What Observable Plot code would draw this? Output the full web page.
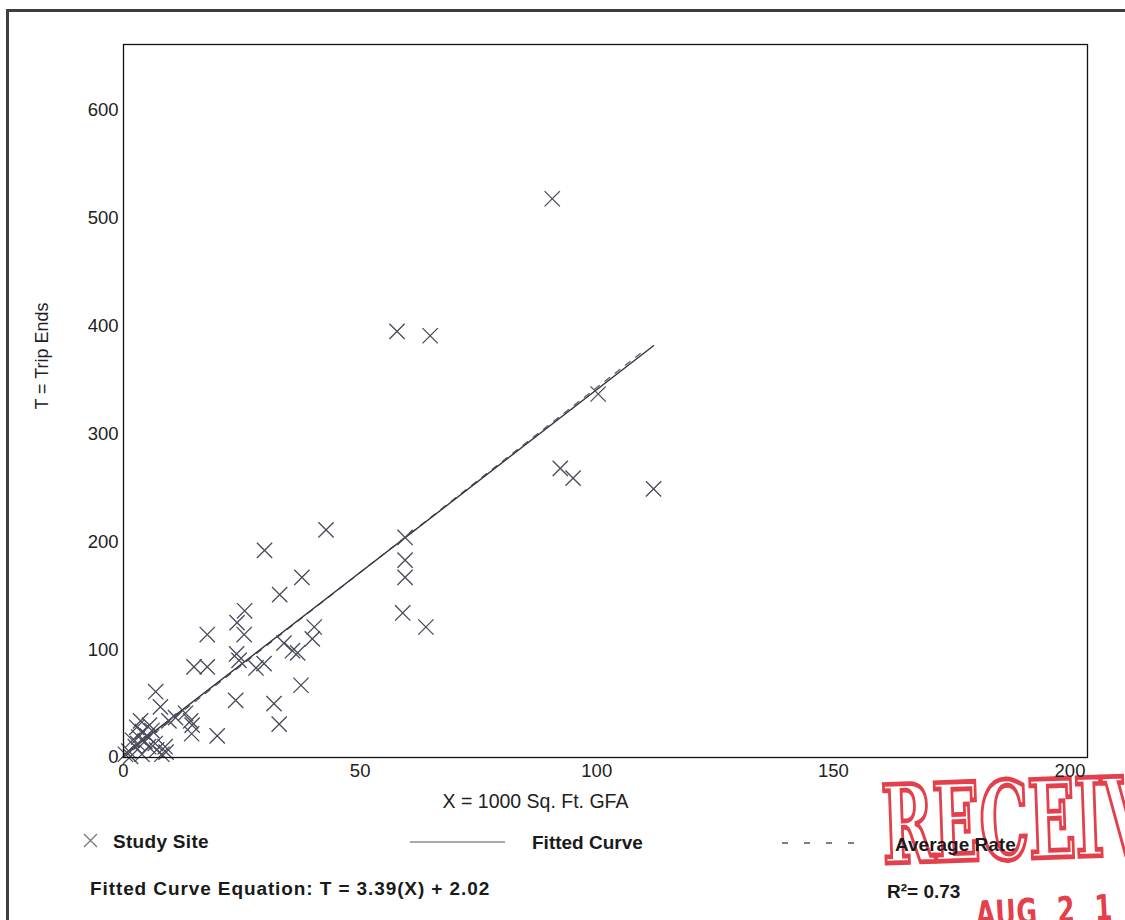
<!DOCTYPE html>
<html><head><meta charset="utf-8">
<script src="https://cdn.jsdelivr.net/npm/d3@7"></script>
<script src="https://cdn.jsdelivr.net/npm/@observablehq/plot@0.6"></script>
<style>
html,body{margin:0;padding:0;background:#fff;width:1125px;height:920px;overflow:hidden;}
#page{position:relative;width:1125px;height:920px;font-family:"Liberation Sans",Arial,sans-serif;overflow:hidden;}
#border{position:absolute;left:6px;top:9px;width:1300px;height:1200px;border:3px solid #3d3d3d;box-sizing:border-box;}
#chart{position:absolute;left:0;top:0;}
.lg{position:absolute;font-weight:bold;font-size:19px;line-height:19px;color:#1a1a1a;white-space:nowrap;}
#stamp{position:absolute;left:880px;top:771px;font-family:"DejaVu Serif",serif;font-weight:bold;font-size:90px;line-height:90px;color:#fff;-webkit-text-stroke:4px #e3404c;transform-origin:0 0;transform:rotate(-2deg) scale(0.69,1.2);white-space:nowrap;letter-spacing:-1px;}
#stamp2{position:absolute;left:975px;top:897px;font-family:"DejaVu Sans",sans-serif;font-weight:bold;font-size:36px;line-height:36px;color:#e3404c;transform-origin:0 0;transform:rotate(-3deg) scaleX(0.7);white-space:nowrap;letter-spacing:1px;word-spacing:14px;}
#legsvg{position:absolute;left:0;top:0;}
</style></head>
<body><div id="page">
<div id="border"></div>
<div id="stamp"></div>
<div id="stamp2"></div>
<div id="chart"></div>
<svg id="legsvg" width="1125" height="920"></svg>
</div>
<script>
// ---- data ----
const siteX = [90.6,57.8,64.8,100.3,92.3,95.0,112.0,
  42.8,29.8,59.5,59.5,59.5,59.0,63.9,
  37.7,33.0,25.6,24.0,25.5,17.7,23.9,24.4,
  14.9,17.7,28.0,29.7,40.3,39.9,33.9,35.7,36.8,
  37.5,23.7,31.8,32.9,19.8,14.2,14.4,6.8,7.8,
  3.6,9.6,11.0,13.1,14.5,
  1.9,2.5,1.1,5.3,6.7,8.8,8.1,3.9,0.4,5.0,3.2,4.0,2.8,5.5,7.0,1.5,4.5,6.0,3.0,9.0];
const siteY = [518,395,391,337,268,259,249,
  211,192,204,183,167,134,121,
  167,151,136,125,114,114,96,90,
  84,84,83,87,121,110,106,99,97,
  67,53,50,31,20,34,22,61,47,
  34,34,37,41,30,
  16,10,6,10,13,10,3,3,3,20,19,24,28,30,7,1,15,25,13,5];
const fittedSlope = 3.39, fittedIntercept = 2.02;
const averageRate = 3.43;
const rSquared = 0.73;
const xTicks = [0,50,100,150,200];
const yTicks = [0,100,200,300,400,500,600];
const xLabel = "X = 1000 Sq. Ft. GFA";
const yLabel = "T = Trip Ends";
const legendLabels = ["Study Site","Fitted Curve","Average Rate"];
const equationText = `Fitted Curve Equation: T = ${fittedSlope}(X) + ${fittedIntercept}`;
const rText = `R²= ${rSquared}`;
const stampText = "RECEIVED";
const stampDate = "AUG 2 1 2012";

// ---- build tables ----
const sites = siteX.map((x,i)=>({x, y: siteY[i]}));
const xr = [d3.min(siteX), d3.max(siteX)];
const fitLine = xr.map(x=>({x, y: fittedSlope*x + fittedIntercept}));
const avgLine = [0, 110].map(x=>({x, y: averageRate*x}));

const font = '"Liberation Sans", Arial, sans-serif';
const chart = Plot.plot({
  width: 1125, height: 815,
  marginLeft: 123, marginRight: 38, marginTop: 44, marginBottom: 58,
  x: {domain: [0, 203.7]},
  y: {domain: [0, 661]},
  style: {fontFamily: font, fontSize: "18.5px", color: "#222", background: "transparent", overflow: "visible"},
  marks: [
    Plot.axisX({ticks: xTicks, tickSize: 0, tickPadding: 6, label: null, fontSize: 18.5}),
    Plot.axisY({ticks: yTicks, tickSize: 0, tickPadding: 5, label: null, fontSize: 18.5}),
    Plot.line(avgLine, {x: "x", y: "y", stroke: "#5a5a66", strokeWidth: 1.2, strokeDasharray: "6,7"}),
    Plot.line(fitLine, {x: "x", y: "y", stroke: "#333340", strokeWidth: 1.4}),
    Plot.dot(sites, {x: "x", y: "y", symbol: "times", r: 7, stroke: "#474b5a", strokeWidth: 1.3}),
    Plot.frame({stroke: "#111", strokeWidth: 1.3}),
    Plot.text([xLabel], {frameAnchor: "bottom", dx: -70, dy: 50, fontSize: 19.5, fill: "#222"}),
    Plot.text([yLabel], {frameAnchor: "left", textAnchor: "middle", dx: -81, dy: -45, rotate: -90, fontSize: 18, fill: "#222"})
  ]
});
document.getElementById("chart").appendChild(chart);

// stamp (behind chart and legend texts)
document.getElementById("stamp").textContent = stampText;
document.getElementById("stamp2").textContent = stampDate;

// legend
const page = document.getElementById("page");
function addText(txt, left, cy, ls){
  const d = document.createElement("div");
  d.className = "lg"; d.textContent = txt;
  d.style.left = left + "px"; d.style.top = (cy - 9.5) + "px";
  if (ls) d.style.letterSpacing = ls + "px";
  page.appendChild(d);
}
addText(legendLabels[0], 113, 841, 0.3);
addText(legendLabels[1], 532, 842);
addText(legendLabels[2], 895, 844);
addText(equationText, 90, 888, 0.9);
addText(rText, 887, 891);

const svg = d3.select("#legsvg");
svg.append("path").attr("d","M84,834L97,847M97,834L84,847").attr("stroke","#777").attr("stroke-width",1.3).attr("fill","none");
svg.append("line").attr("x1",410).attr("x2",505).attr("y1",842).attr("y2",842).attr("stroke","#555").attr("stroke-width",1.2);
svg.append("line").attr("x1",782).attr("x2",862).attr("y1",843).attr("y2",843).attr("stroke","#555").attr("stroke-width",1.4).attr("stroke-dasharray","6,16");
</script>
</body></html>
